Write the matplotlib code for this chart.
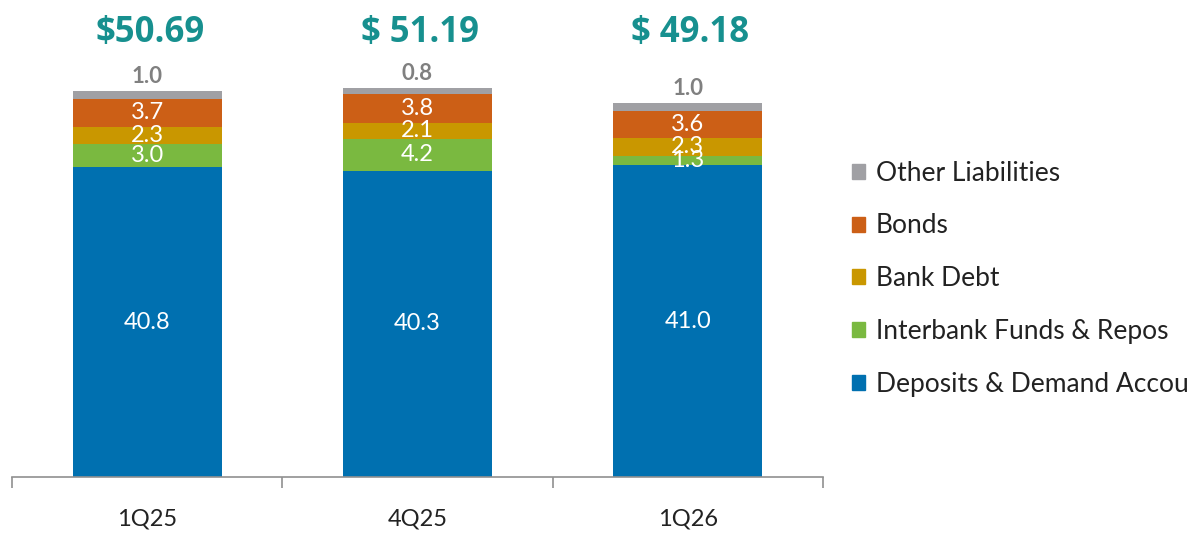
import matplotlib
matplotlib.use("Agg")
import matplotlib.pyplot as plt
from matplotlib.patches import Patch
import numpy as np

categories = ["1Q25", "4Q25", "1Q26"]
totals = ["$50.69", "$ 51.19", "$ 49.18"]
series_names = ["Deposits & Demand Accounts", "Interbank Funds & Repos", "Bank Debt", "Bonds", "Other Liabilities"]
deposits = [40.8, 40.3, 41.0]
interbank = [3.0, 4.2, 1.3]
bank_debt = [2.3, 2.1, 2.3]
bonds = [3.7, 3.8, 3.6]
other = [1.0, 0.8, 1.0]
colors = ["#0070b0", "#7ab940", "#c99700", "#cc5f16", "#a0a0a4"]

series = [deposits, interbank, bank_debt, bonds, other]

plt.rcParams['font.family'] = ['Lato', 'DejaVu Sans']

fig = plt.figure(figsize=(11.89, 5.33), dpi=100)
ax = fig.add_axes([12/1189, 56/533, 811/1189, 477/533])

x = np.arange(len(categories))
width = 0.55
bottom = np.zeros(len(categories))
handles = []
for name, vals, col in zip(series_names, series, colors):
    vals = np.array(vals)
    ax.bar(x, vals, width, bottom=bottom, color=col, label=name)
    handles.append(Patch(color=col, label=name))
    for xi, b, v in zip(x, bottom, vals):
        if name == "Other Liabilities":
            ax.text(xi, b + v + 0.5, f"{v:.1f}", ha='center', va='bottom',
                    color='#808080', fontsize=16, fontweight='bold')
        else:
            ax.text(xi, b + v / 2, f"{v:.1f}", ha='center', va='center',
                    color='white', fontsize=17)
    bottom = bottom + vals

for xi, t in zip(x, totals):
    ax.text(xi + 0.01, 58.5, t, ha='center', va='center', color='#17908f',
            fontsize=25, fontweight='bold', family=['Open Sans', 'DejaVu Sans'])

ax.set_xlim(-0.5, 2.5)
ax.set_ylim(0, 62.78)
for s in ['top', 'right', 'left']:
    ax.spines[s].set_visible(False)
ax.spines['bottom'].set_color('#909090')
ax.spines['bottom'].set_linewidth(1.2)
ax.set_yticks([])
ax.set_xticks(x)
ax.set_xticklabels(categories, fontsize=17, color='#222222')
ax.tick_params(axis='x', which='major', length=0, pad=23)
ax.set_xticks([-0.5, 0.5, 1.5, 2.5], minor=True)
ax.tick_params(axis='x', which='minor', length=8, color='#909090', width=1.2, direction='out')

leg = fig.legend(handles=handles[::-1], loc='upper left', bbox_to_anchor=(828/1189, 1 - 137/533),
                 frameon=False, fontsize=19, handlelength=0.5, handleheight=0.5,
                 handletextpad=0.4, labelspacing=1.05, labelcolor='#222222')

fig.savefig("out.png", dpi=100)
